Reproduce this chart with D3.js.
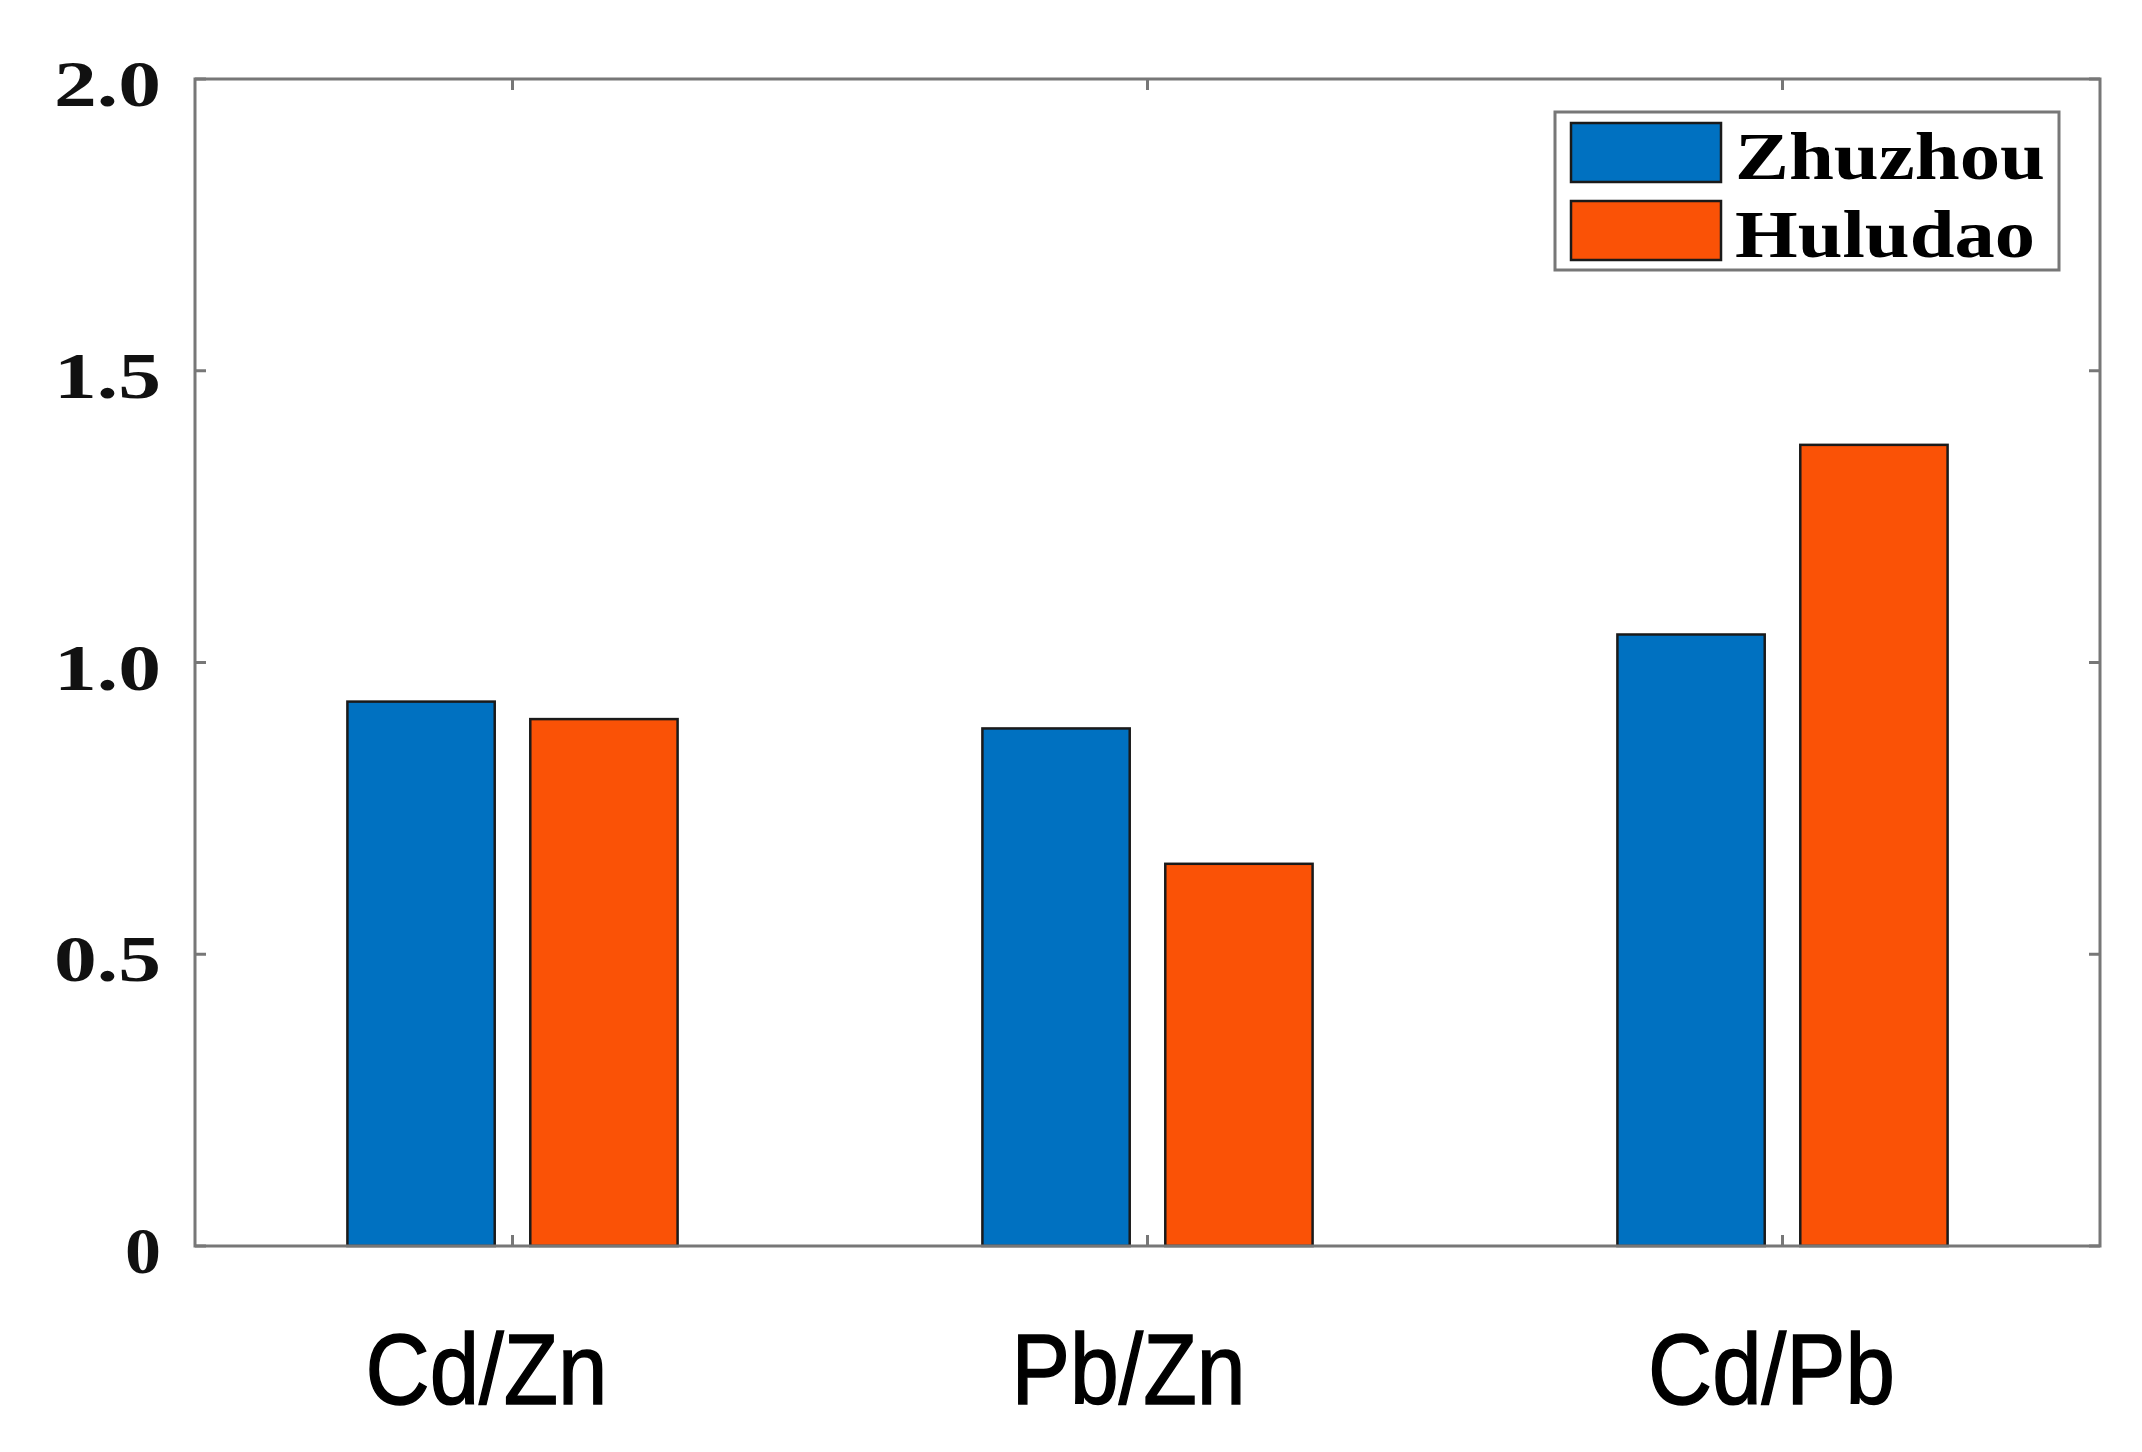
<!DOCTYPE html>
<html><head><meta charset="utf-8">
<script src="https://cdn.jsdelivr.net/npm/d3@7"></script>
<style>html,body{margin:0;padding:0;background:#fff;}</style>
</head><body>
<svg id="chart" width="2142" height="1452"></svg>
<script>
const categories = ["Cd/Zn", "Pb/Zn", "Cd/Pb"];
const seriesNames = ["Zhuzhou", "Huludao"];
const zhuzhou = [0.933, 0.887, 1.048];
const huludao = [0.903, 0.655, 1.373];
const yTicks = [0, 0.5, 1.0, 1.5, 2.0];
const yTickLabels = ["0", "0.5", "1.0", "1.5", "2.0"];
const colors = ["#0071C1", "#FA5206"];

const svg = d3.select("#chart");
const L = 195, R = 2100, T = 79, B = 1246;
const x = d3.scaleLinear().domain([0.5, 3.5]).range([L, R]);
const y = d3.scaleLinear().domain([0, 2]).range([B, T]);

const series = [zhuzhou, huludao];
const offsets = [-0.144, 0.144];
const bw = 0.232;

const g = svg.append("g");
series.forEach((vals, si) => {
  g.selectAll(".bar" + si).data(vals).enter().append("rect")
    .attr("x", (d, i) => x(i + 1 + offsets[si] - bw / 2))
    .attr("width", x(bw) - x(0))
    .attr("y", d => y(d))
    .attr("height", d => y(0) - y(d))
    .attr("fill", colors[si])
    .attr("stroke", "#1a1a1a")
    .attr("stroke-width", 2.5);
});

// axes box
const axColor = "#777";
const tickLen = 11;
const axG = svg.append("g").attr("stroke", axColor).attr("stroke-width", 3).attr("fill", "none");
axG.append("rect").attr("x", L).attr("y", T).attr("width", R - L).attr("height", B - T);
categories.forEach((c, i) => {
  const xx = x(i + 1);
  axG.append("line").attr("x1", xx).attr("x2", xx).attr("y1", T).attr("y2", T + tickLen);
  axG.append("line").attr("x1", xx).attr("x2", xx).attr("y1", B).attr("y2", B - tickLen);
});
yTicks.forEach(v => {
  const yy = y(v);
  axG.append("line").attr("x1", L).attr("x2", L + tickLen).attr("y1", yy).attr("y2", yy);
  axG.append("line").attr("x1", R).attr("x2", R - tickLen).attr("y1", yy).attr("y2", yy);
});

// y tick labels
svg.append("g").selectAll("text").data(yTicks).enter().append("text")
  .attr("x", 161).attr("y", d => y(d) + 27)
  .attr("text-anchor", "end")
  .attr("font-family", "'Liberation Serif', 'Times New Roman', serif")
  .attr("font-weight", "bold").attr("font-size", 66)
  .attr("fill", "#111")
  .attr("textLength", (d, i) => yTickLabels[i].length === 1 ? 36 : 107)
  .attr("lengthAdjust", "spacingAndGlyphs")
  .text((d, i) => yTickLabels[i]);

// x category labels
const xLabelWidths = [242, 234, 247];
const xLabelShift = [-26, -19, -11];
svg.append("g").selectAll("text").data(categories).enter().append("text")
  .attr("x", (d, i) => x(i + 1) + xLabelShift[i])
  .attr("y", 1404)
  .attr("text-anchor", "middle")
  .attr("font-family", "'Liberation Sans', Arial, sans-serif")
  .attr("font-size", 100)
  .attr("fill", "#000")
  .attr("stroke", "#000").attr("stroke-width", 1.5)
  .attr("textLength", (d, i) => xLabelWidths[i])
  .attr("lengthAdjust", "spacingAndGlyphs")
  .text(d => d);

// legend
const lg = svg.append("g");
lg.append("rect").attr("x", 1555).attr("y", 112).attr("width", 504).attr("height", 158)
  .attr("fill", "#fff").attr("stroke", axColor).attr("stroke-width", 3);
const legW = [310, 300];
seriesNames.forEach((name, i) => {
  const yy = 123 + i * 78;
  lg.append("rect").attr("x", 1571).attr("y", yy).attr("width", 150).attr("height", 59)
    .attr("fill", colors[i]).attr("stroke", "#1a1a1a").attr("stroke-width", 2.5);
  lg.append("text").attr("x", 1735).attr("y", yy + 56)
    .attr("font-family", "'Liberation Serif', 'Times New Roman', serif")
    .attr("font-weight", "bold").attr("font-size", 68).attr("fill", "#000")
    .attr("textLength", legW[i]).attr("lengthAdjust", "spacingAndGlyphs")
    .text(name);
});
</script>
</body></html>
